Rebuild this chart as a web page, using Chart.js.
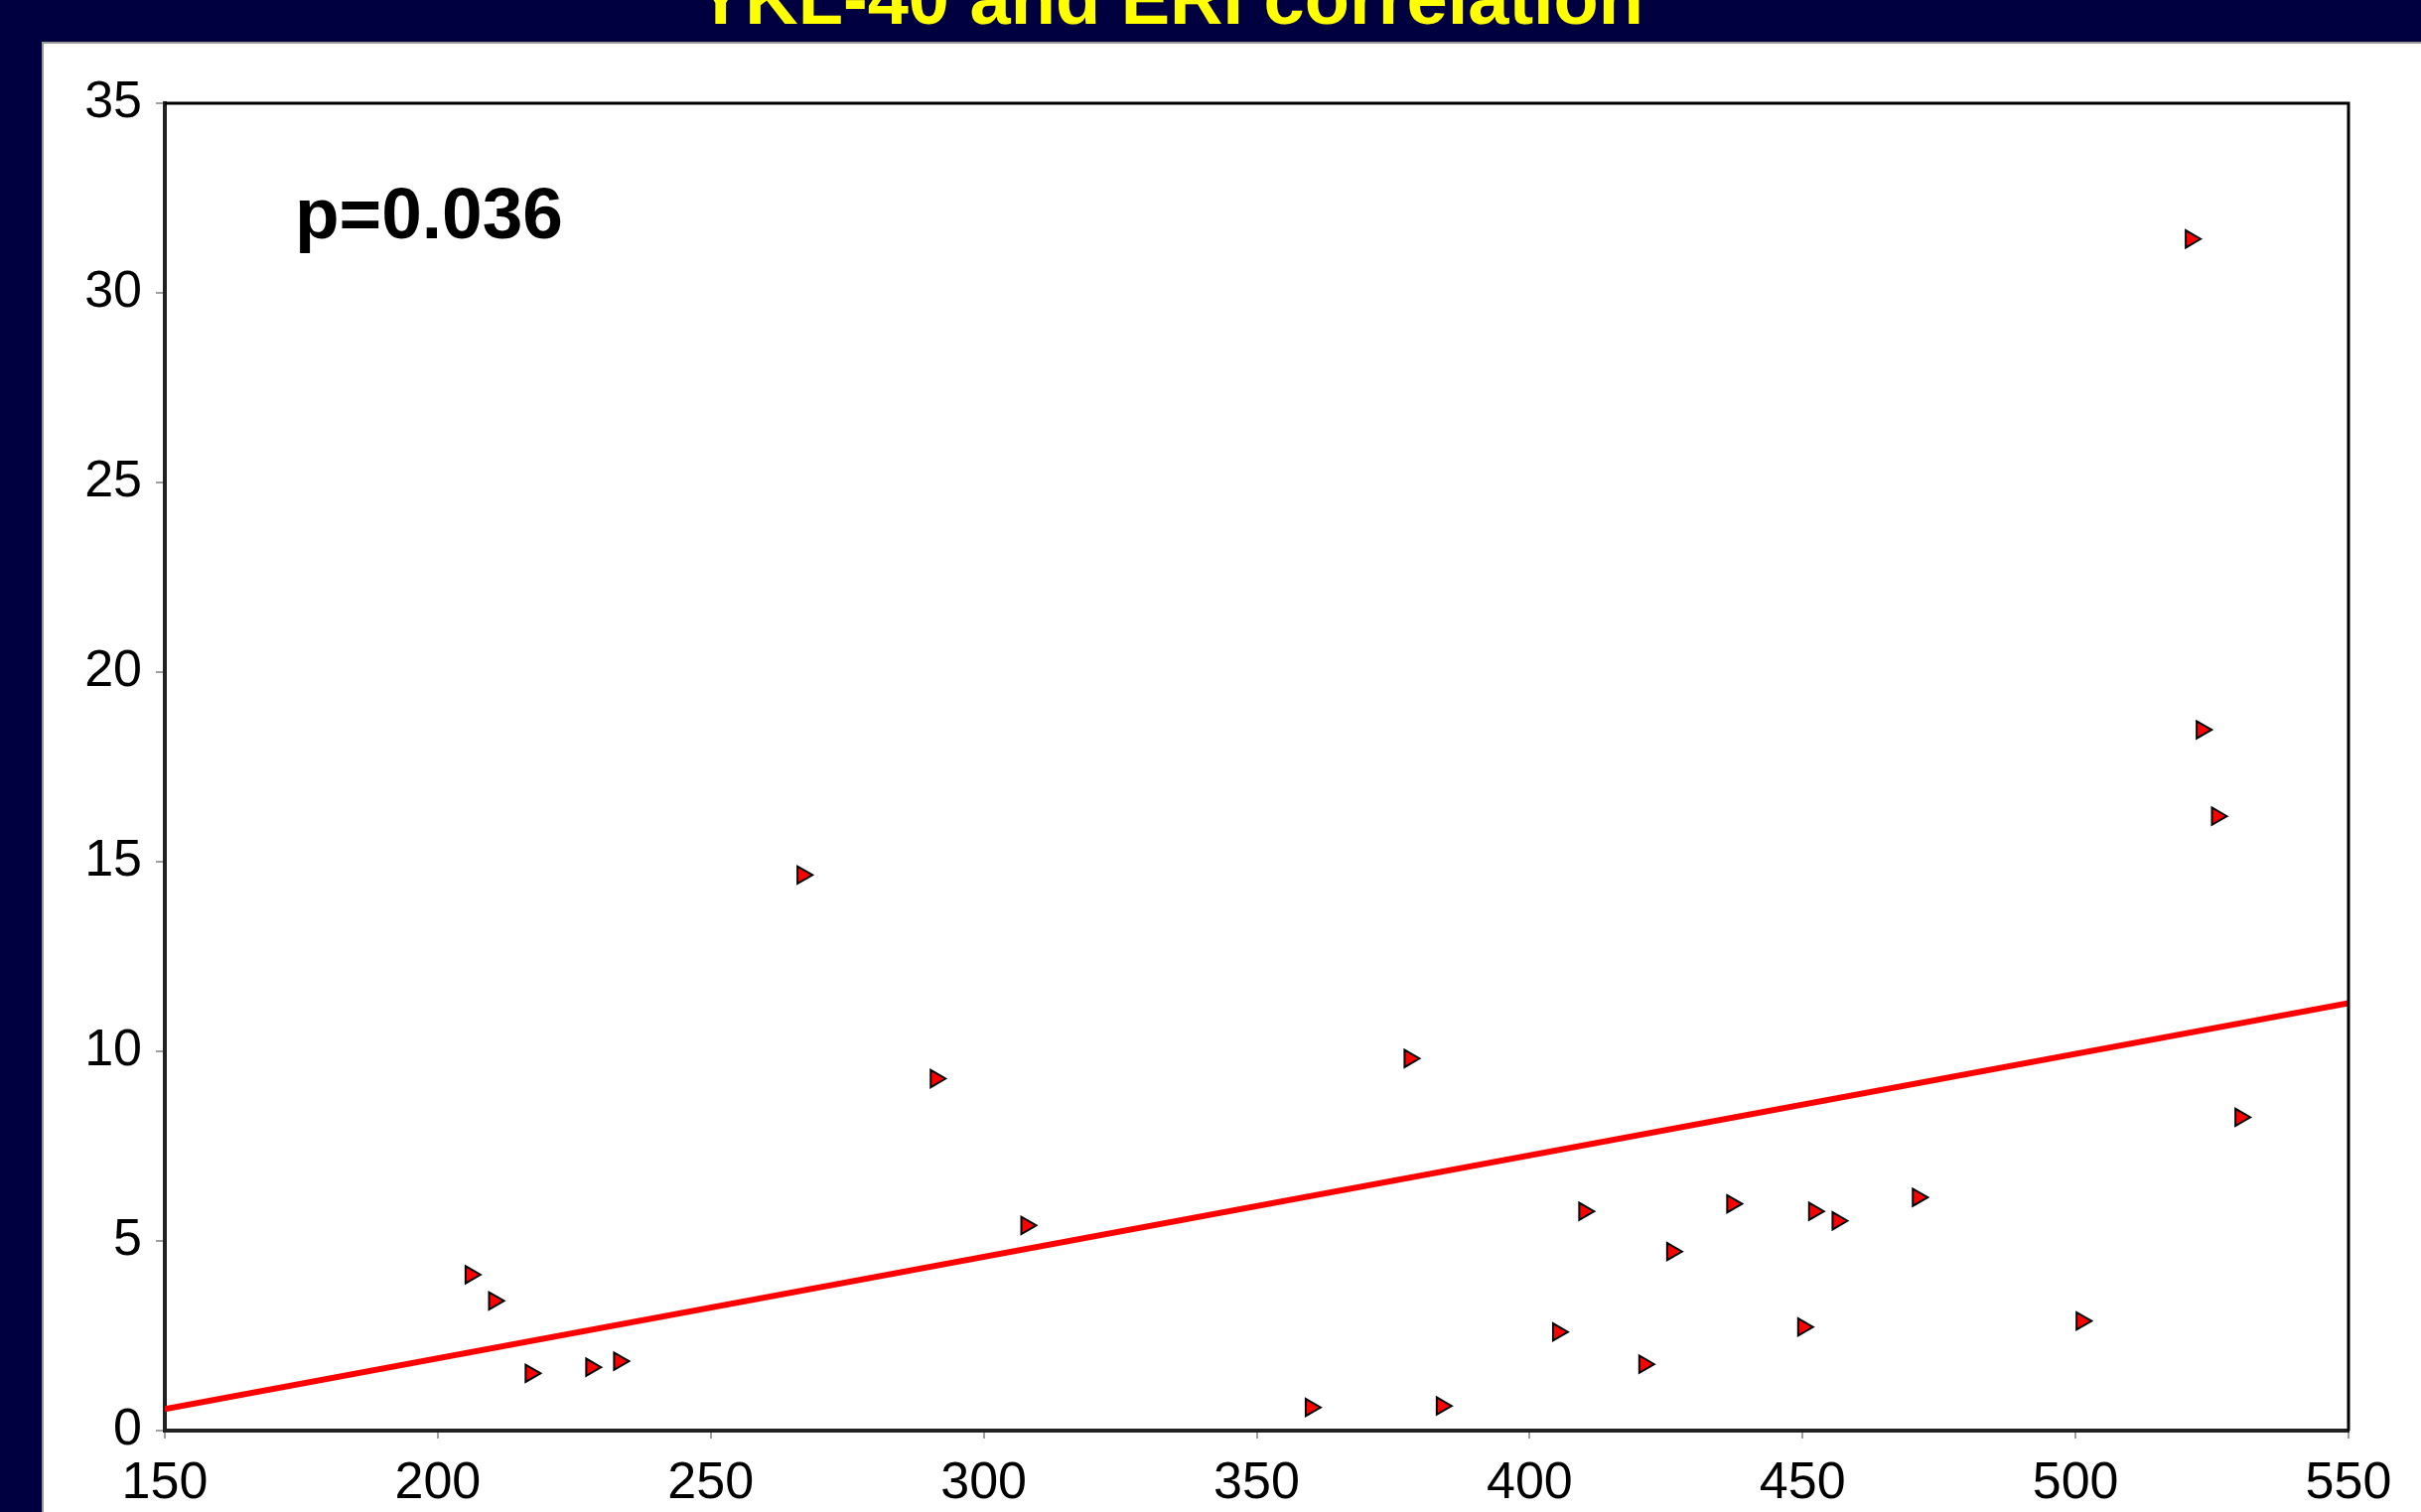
<!DOCTYPE html>
<html>
<head>
<meta charset="utf-8">
<script src="https://cdn.jsdelivr.net/npm/chart.js@4/dist/chart.umd.min.js"></script>
<style>
  html, body { margin: 0; padding: 0; background: #000040; overflow: hidden; }
  #wrap { position: relative; width: 2438px; height: 1523px; }
  canvas { display: block; }
</style>
</head>
<body>
<div id="wrap"><canvas id="c" width="2438" height="1523"></canvas></div>
<script>
// ---- data ----
const titleText = "YKL-40 and ERI correlation";
const pLabel = "p=0.036";
const ykl40 = [206.0, 210.3, 217.0, 228.1, 233.2, 266.8, 291.2, 307.8, 359.9, 378.0,
               383.9, 405.2, 410.0, 421.0, 426.1, 437.1, 450.1, 452.1, 456.4, 471.1,
               501.1, 521.1, 523.1, 525.9, 530.2];
const eri   = [4.11, 3.42, 1.51, 1.67, 1.83, 14.65, 9.28, 5.41, 0.61, 9.81,
               0.65, 2.60, 5.78, 1.75, 4.72, 5.98, 2.73, 5.78, 5.53, 6.15,
               2.89, 31.42, 18.48, 16.20, 8.26];
const trendX = [150, 550];
const trendY = [0.57, 11.27];
const xTicks = [150, 200, 250, 300, 350, 400, 450, 500, 550];
const yTicks = [0, 5, 10, 15, 20, 25, 30, 35];

const points = ykl40.map((x, i) => ({ x: x, y: eri[i] }));
const trend = trendX.map((x, i) => ({ x: x, y: trendY[i] }));

const FONT = "'Liberation Sans', Arial, Helvetica, sans-serif";

const backdrop = {
  id: 'backdrop',
  beforeDraw(chart) {
    const ctx = chart.ctx;
    ctx.save();
    ctx.fillStyle = '#000040';
    ctx.fillRect(0, 0, chart.width, chart.height);
    ctx.fillStyle = '#ffffff';
    ctx.fillRect(42, 42, chart.width - 42, chart.height - 42);
    ctx.strokeStyle = '#9a9a9a';
    ctx.lineWidth = 2;
    ctx.beginPath();
    ctx.moveTo(43, chart.height);
    ctx.lineTo(43, 43);
    ctx.lineTo(chart.width, 43);
    ctx.stroke();
    // title (cut off at top edge)
    ctx.fillStyle = '#ffff00';
    ctx.font = 'bold 74px ' + FONT;
    ctx.textAlign = 'center';
    ctx.textBaseline = 'alphabetic';
    ctx.fillText(titleText, 1178, 24);
    ctx.restore();
  },
  afterDraw(chart) {
    const ctx = chart.ctx;
    const a = chart.chartArea;
    ctx.save();
    ctx.strokeStyle = '#000000';
    ctx.lineWidth = 3;
    ctx.beginPath();
    ctx.moveTo(a.left, a.top);
    ctx.lineTo(a.right, a.top);
    ctx.lineTo(a.right, a.bottom);
    ctx.stroke();
    ctx.fillStyle = '#000000';
    ctx.font = 'bold 73px ' + FONT;
    ctx.textAlign = 'left';
    ctx.textBaseline = 'alphabetic';
    ctx.fillText(pLabel, 297, 240);
    ctx.restore();
  }
};

new Chart(document.getElementById('c'), {
  type: 'scatter',
  data: {
    datasets: [
      {
        type: 'line',
        label: 'trend',
        data: trend,
        borderColor: '#ff0000',
        borderWidth: 6,
        pointRadius: 0,
        fill: false,
        order: 2
      },
      {
        label: 'ERI',
        data: points,
        pointStyle: 'triangle',
        rotation: 90,
        pointRadius: 10,
        pointHoverRadius: 10,
        backgroundColor: '#ff0000',
        borderColor: '#000000',
        borderWidth: 2,
        order: 1
      }
    ]
  },
  options: {
    responsive: false,
    animation: false,
    events: [],
    layout: { padding: { left: 0, top: 104, right: 73, bottom: 0 } },
    plugins: {
      legend: { display: false },
      tooltip: { enabled: false },
      title: { display: false }
    },
    scales: {
      x: {
        type: 'linear',
        min: 150, max: 550,
        afterBuildTicks(scale) { scale.ticks = xTicks.map(v => ({ value: v })); },
        afterFit(scale) { scale.height = 82; },
        border: { display: true, color: '#222222', width: 4 },
        grid: { drawOnChartArea: false, drawTicks: true, tickLength: 8, tickColor: '#a0a0a0', lineWidth: 2 },
        ticks: { color: '#000000', padding: 14, maxRotation: 0, autoSkip: false,
                 font: { family: FONT, size: 52 } }
      },
      y: {
        type: 'linear',
        min: 0, max: 35,
        afterBuildTicks(scale) { scale.ticks = yTicks.map(v => ({ value: v })); },
        afterFit(scale) { scale.width = 166; },
        border: { display: true, color: '#222222', width: 4 },
        grid: { drawOnChartArea: false, drawTicks: true, tickLength: 9, tickColor: '#a0a0a0', lineWidth: 2 },
        ticks: { color: '#000000', padding: 14, autoSkip: false,
                 font: { family: FONT, size: 52 } }
      }
    }
  },
  plugins: [backdrop]
});
</script>
</body>
</html>
